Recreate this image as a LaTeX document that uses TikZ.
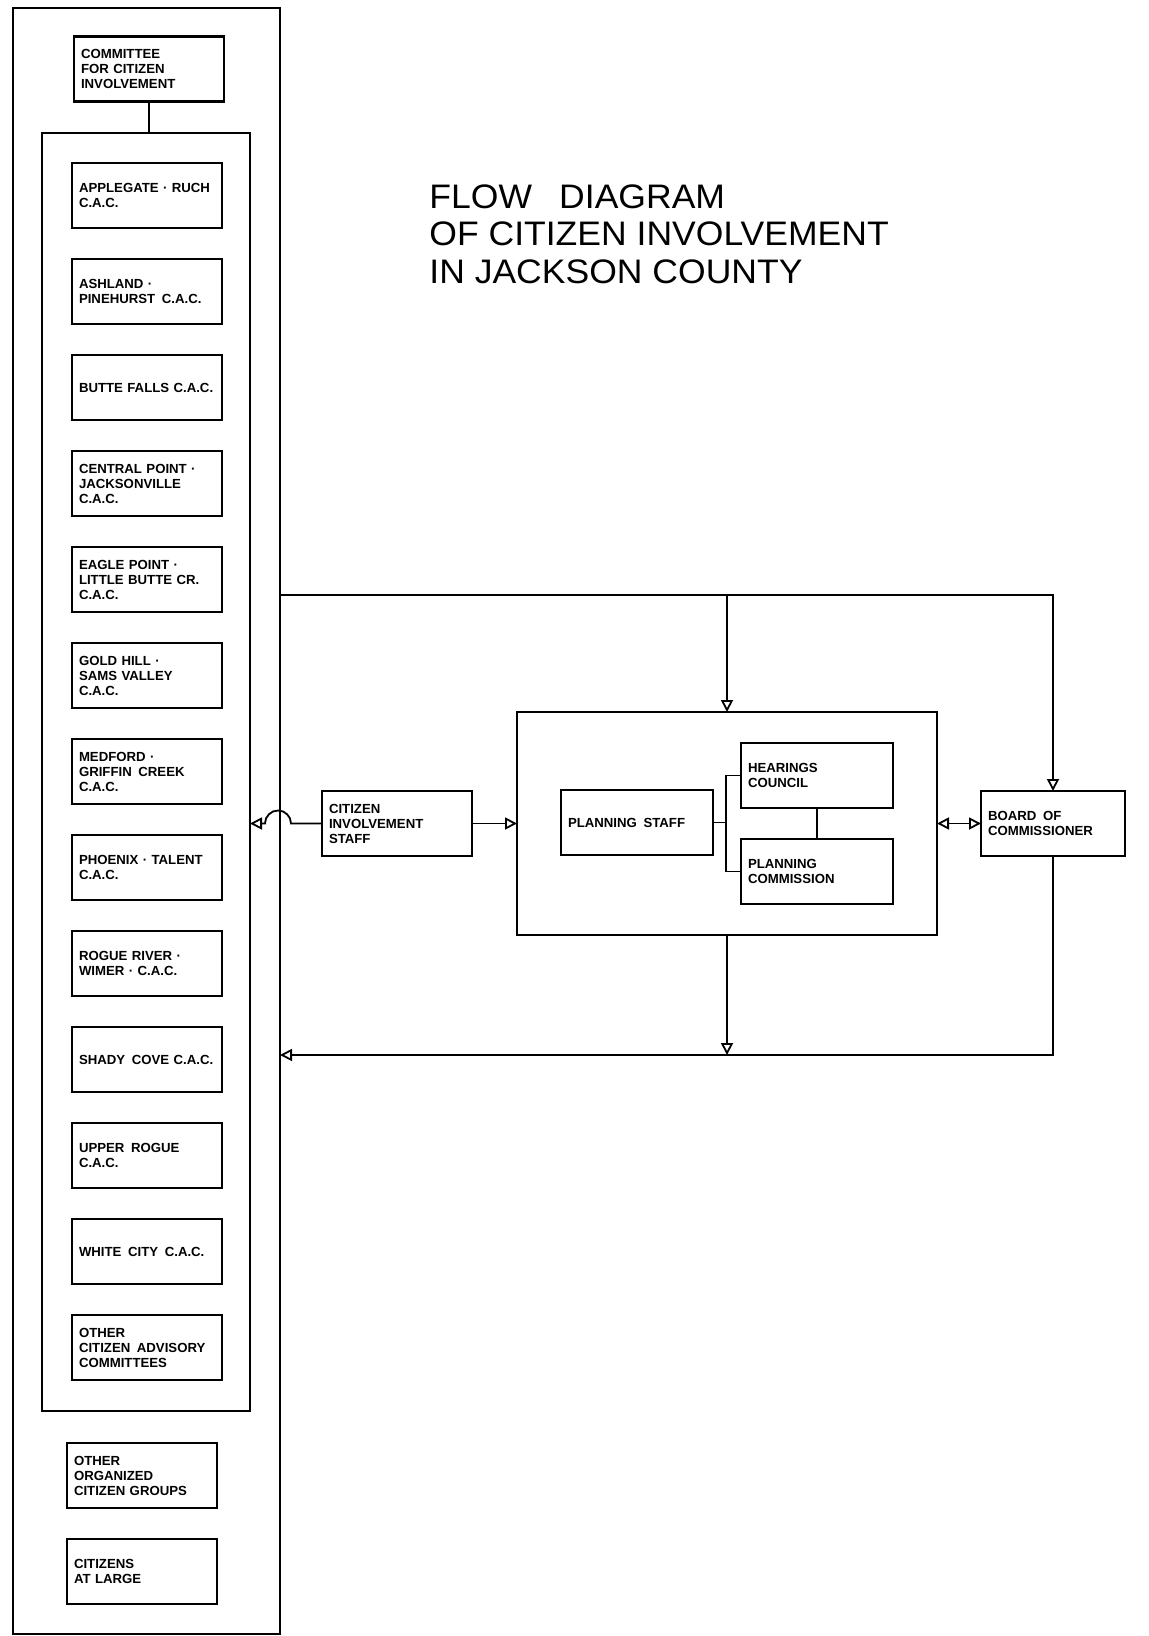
\documentclass[tikz,border=0pt]{standalone}
\usepackage{fontspec}
\setmainfont{Liberation Sans}
\newfontfamily\titlefont{Liberation Sans}[FakeStretch=1.045]
\usepackage{tikz}
\usetikzlibrary{arrows.meta, positioning, fit}

\begin{document}
\begin{tikzpicture}[
        x=0.5pt, y=0.5pt,
        node distance=15.5pt and 15.5pt,
        box/.style={rectangle, draw=black, line width=1.3pt, outer sep=0pt, minimum width=75pt, minimum height=32.5pt, text width=68pt, inner xsep=3.5pt, align=left, font=\bfseries\fontsize{6.6}{7.5}\selectfont},
        widebox/.style={box, minimum width=76pt, text width=69pt},
        frame/.style={rectangle, draw=black, line width=1.2pt, inner sep=0pt, outer sep=0pt},
        link/.style={line width=0.9pt},
        arrow/.style={-{Triangle[open, length=6pt, width=6pt]}, line width=0.9pt},
        twoway/.style={{Triangle[open, length=6pt, width=6pt]}-{Triangle[open, length=6pt, width=6pt]}, line width=0.9pt}
    ]
    \useasboundingbox (0,0) rectangle (1149,-1636);

    % title
    \node (title) [anchor=north west, align=left, inner sep=0pt, font=\titlefont\fontsize{17}{18.75}\selectfont] at (429,-184)
        {FLOW\hspace{0.8em}DIAGRAM\\OF CITIZEN INVOLVEMENT\\IN JACKSON COUNTY};

    % left column
    \node (outer) [frame, fit={(13,-8) (280,-1634)}] {};
    \node (cci) [box] at (149,-69) {COMMITTEE\\FOR CITIZEN\\INVOLVEMENT};
    \node (cacframe) [frame, fit={(42,-133) (250,-1411)}] {};

    \node (applegate) [box] at (147,-195.5) {APPLEGATE · RUCH\\C.A.C.};
    \node (ashland) [box, below=of applegate] {ASHLAND ·\\PINEHURST\enspace C.A.C.};
    \node (butte) [box, below=of ashland] {\mbox{BUTTE FALLS C.A.C.}};
    \node (central) [box, below=of butte] {CENTRAL POINT ·\\JACKSONVILLE\\C.A.C.};
    \node (eagle) [box, below=of central] {EAGLE POINT ·\\LITTLE BUTTE CR.\\C.A.C.};
    \node (goldhill) [box, below=of eagle] {GOLD HILL ·\\SAMS VALLEY\\C.A.C.};
    \node (medford) [box, below=of goldhill] {MEDFORD ·\\GRIFFIN\enspace CREEK\\C.A.C.};
    \node (phoenix) [box, below=of medford] {PHOENIX · TALENT\\C.A.C.};
    \node (rogue) [box, below=of phoenix] {ROGUE RIVER ·\\WIMER · C.A.C.};
    \node (shady) [box, below=of rogue] {SHADY\enspace COVE C.A.C.};
    \node (upper) [box, below=of shady] {UPPER\enspace ROGUE\\C.A.C.};
    \node (whitecity) [box, below=of upper] {WHITE\enspace CITY\enspace C.A.C.};
    \node (othercac) [box, below=of whitecity] {OTHER\\CITIZEN\enspace ADVISORY\\COMMITTEES};

    \node (othergroups) [box] at (142,-1475.5) {OTHER\\ORGANIZED\\CITIZEN GROUPS};
    \node (atlarge) [box, below=of othergroups] {CITIZENS\\AT LARGE};

    % planning group
    \node (planning) [frame, fit={(517,-712) (937,-935)}] {};
    \node (pstaff) [widebox] at (637,-822.5) {PLANNING\enspace STAFF};
    \node (hearings) [widebox] at (817,-775.5) {HEARINGS\\COUNCIL};
    \node (pcomm) [widebox, below=of hearings] {PLANNING\\COMMISSION};
    \node (cis) [box, left=22.5pt of planning] {CITIZEN\\INVOLVEMENT\\STAFF};
    \node (board) [box, minimum width=72pt, text width=65pt, right=22pt of planning] {BOARD\enspace OF\\COMMISSIONER};

    \coordinate (topy) at (0,-595);
    \coordinate (boty) at (0,-1055);

    \draw [link] (cci.south) -- (cci.south |- cacframe.north);
    \draw [arrow] (cis.east) -- (cis.east -| planning.west);
    \draw [arrow] (cis.west) -- ++(-31,0) arc[start angle=0, end angle=180, radius=13] -- (cis.west -| cacframe.east);
    \draw [link] (pstaff.east) -- ++(13,0) coordinate (fork);
    \draw [link] (hearings.west) -| (fork) |- (pcomm.west);
    \draw [link] (hearings.south) -- (pcomm.north);
    \draw [twoway] (board.west -| planning.east) -- (board.west);
    \draw [arrow] (outer.east |- topy) -| (board.north);
    \draw [arrow] (planning.north |- topy) -- (planning.north);
    \draw [arrow] (board.south) |- (outer.east |- boty);
    \draw [arrow] (planning.south) -- (planning.south |- boty);
\end{tikzpicture}
\end{document}
